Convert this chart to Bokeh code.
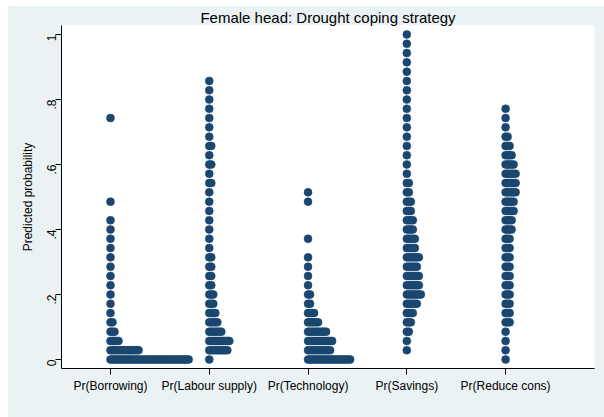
import math
from bokeh.plotting import figure
from bokeh.models import FixedTicker, ColumnDataSource
from bokeh.embed import file_html
from bokeh.resources import INLINE

# ---- data ----
title_text = "Female head: Drought coping strategy"
y_label = "Predicted probability"
categories = ["Pr(Borrowing)", "Pr(Labour supply)", "Pr(Technology)", "Pr(Savings)", "Pr(Reduce cons)"]
n_bins = 35  # dot rows are at k / 35
y_ticks = [0, 0.2, 0.4, 0.6, 0.8, 1.0]
y_tick_labels = ["0", ".2", ".4", ".6", ".8", "1"]

# number of dots in each row k = 0, 1, 2, ... (value k/35)
borrowing = [40, 15, 5, 3, 2, 1, 1, 1, 1, 1, 1, 1, 1, 1, 1, 1, 0, 1, 0, 0, 0, 0, 0, 0, 0, 0, 1]
labour = [1, 10, 11, 7, 5, 4, 3, 3, 2, 2, 2, 2, 1, 1, 1, 1, 1, 1, 1, 2, 1, 2, 1, 2, 1, 1, 1, 1, 1, 1, 1]
technology = [22, 12, 13, 10, 6, 4, 2, 2, 1, 1, 1, 1, 0, 1, 0, 0, 0, 1, 1]
savings = [0, 1, 1, 2, 3, 4, 6, 8, 7, 7, 6, 7, 5, 5, 4, 4, 3, 3, 2, 2,
           1, 1, 1, 1, 1, 1, 1, 1, 1, 1, 1, 1, 1, 1, 1, 1]
reduce_cons = [1, 1, 1, 1, 3, 3, 3, 3, 3, 3, 3, 3, 3, 3, 4, 4, 5, 5, 6, 6, 6, 5, 4, 3, 2, 1, 1, 1]
series = [borrowing, labour, technology, savings, reduce_cons]

# ---- style ----
DOT_COLOR = "#1A476F"
BG = "#EAF2F3"
DOT_STEP = 0.0203   # horizontal offset between stacked dots (x units)
FONT = "Liberation Sans"
X_RANGE = (0.504, 5.90)
Y_RANGE = (-0.0277, 1.0277)

xs, ys = [], []
for ci, counts in enumerate(series):
    pos = ci + 1
    for k, c in enumerate(counts):
        for j in range(c):
            xs.append(pos + j * DOT_STEP)
            ys.append(k / n_bins)
src = ColumnDataSource(dict(x=xs, y=ys))

p = figure(width=597, height=412, output_backend="svg", toolbar_location=None,
           x_range=X_RANGE, y_range=Y_RANGE,
           min_border_left=54, min_border_right=10, min_border_top=20, min_border_bottom=49)
p.margin = (5, 0, 0, 7)
p.background_fill_color = "white"
p.border_fill_color = BG
p.outline_line_color = None
p.grid.visible = False

p.title.text = title_text
p.title.align = "center"
p.title.text_font = FONT
p.title.text_font_size = "15px"
p.title.text_font_style = "normal"
p.title.text_color = "black"
p.title.standoff = 0

p.scatter("x", "y", source=src, size=8, fill_color=DOT_COLOR, line_color=DOT_COLOR, line_width=0.5)

xa = p.xaxis[0]
xa.ticker = FixedTicker(ticks=list(range(1, len(categories) + 1)))
xa.major_label_overrides = {i + 1: c for i, c in enumerate(categories)}
ya = p.yaxis[0]
ya.ticker = FixedTicker(ticks=y_ticks)
ya.major_label_overrides = {t: l for t, l in zip(y_ticks, y_tick_labels)}
ya.major_label_orientation = math.pi / 2
ya.axis_label = y_label

for ax in (xa, ya):
    ax.axis_line_color = "black"
    ax.axis_line_width = 1
    ax.major_tick_line_color = "black"
    ax.major_tick_in = 0
    ax.major_tick_out = 6
    ax.minor_tick_line_color = None
    ax.major_label_text_font = FONT
    ax.major_label_text_font_size = "12px"
    ax.major_label_text_color = "black"
    ax.major_label_standoff = 4
    ax.axis_label_text_font = FONT
    ax.axis_label_text_font_size = "12px"
    ax.axis_label_text_font_style = "normal"
    ax.axis_label_text_color = "black"
    ax.axis_label_standoff = 5

open("out.html", "w").write(file_html(p, INLINE))
